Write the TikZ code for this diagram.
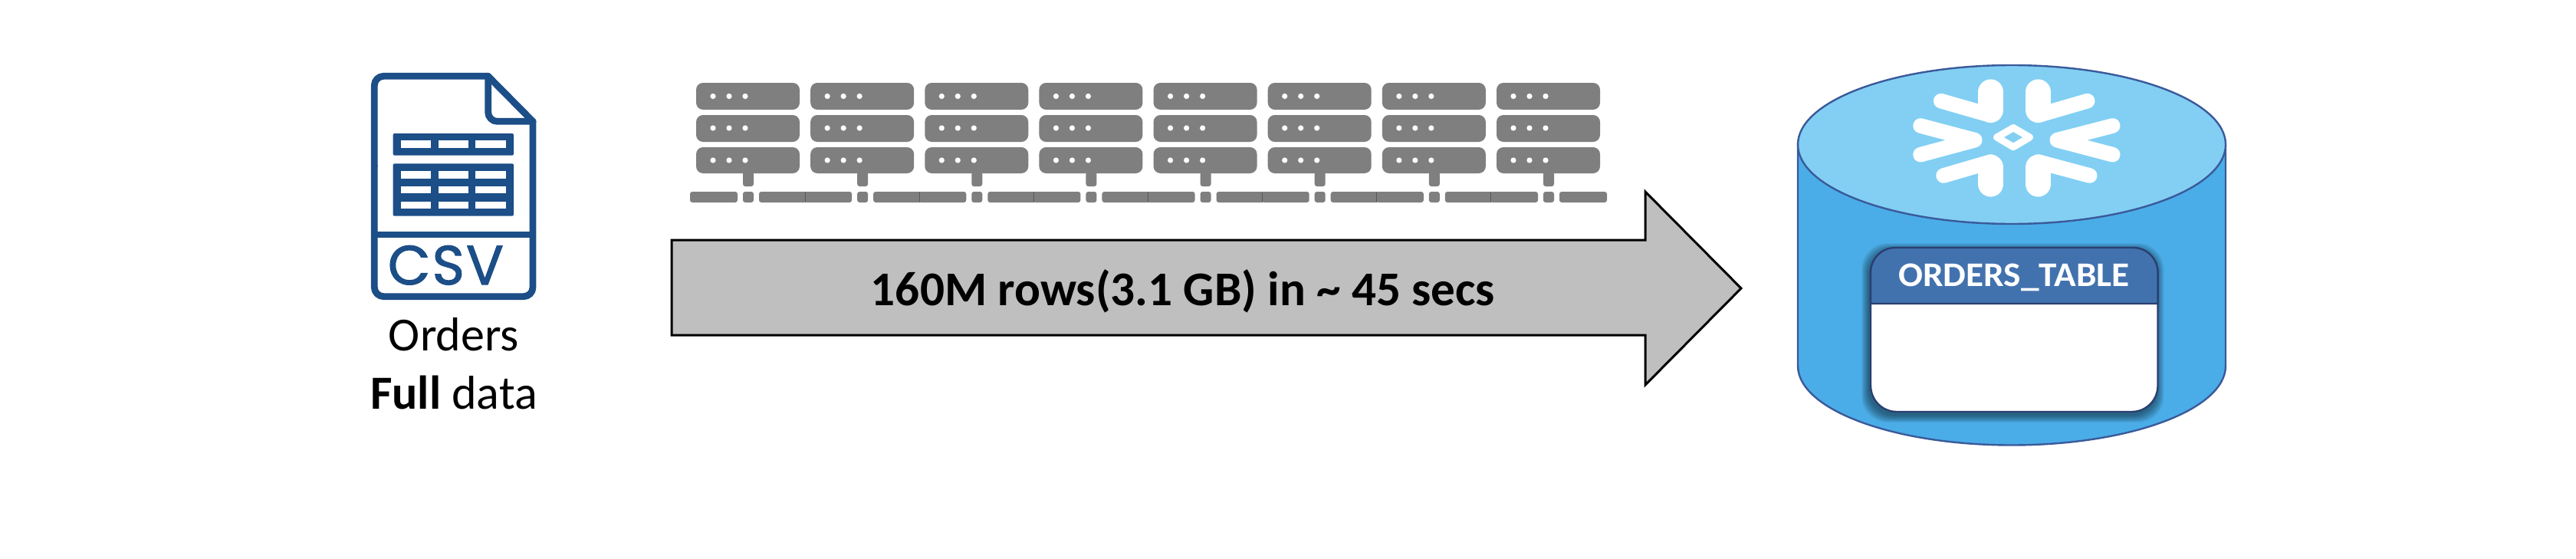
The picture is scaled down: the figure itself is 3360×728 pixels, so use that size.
\documentclass[tikz,border=0pt]{standalone}
\usepackage{fontspec}
\setmainfont{Carlito}
\newfontfamily\csvfont[LetterSpace=3,FakeBold=1.6]{Poppins}
\definecolor{csvblue}{HTML}{1C4E87}
\definecolor{srvgray}{HTML}{7F7F7F}
\definecolor{srvdark}{HTML}{595959}
\definecolor{arrowgray}{HTML}{BFBFBF}
\definecolor{cylbody}{HTML}{4BADE8}
\definecolor{cyltop}{HTML}{82CFF3}
\definecolor{cylline}{HTML}{3A5A9A}
\definecolor{tabhead}{HTML}{4272AE}
\definecolor{tabline}{HTML}{2A3F70}
\tikzset{
  every node/.style={inner sep=0pt,outer sep=0pt},
  srvbar/.style={fill=srvgray,rounded corners=4.5pt},
  srvsmall/.style={fill=srvgray,rounded corners=1.5pt},
  cellwhite/.style={fill=white},
  iconblock/.style={fill=csvblue,rounded corners=1pt},
  iconline/.style={draw=csvblue,line width=4.4pt,line join=round,line cap=round},
  flakearm/.style={draw=white,line width=9.8pt,line cap=round,line join=round},
  flakestem/.style={draw=white,line width=16.6pt,line cap=round,line join=round},
  lbl/.style={anchor=base,align=center,text=black},
}
\begin{document}
\begin{tikzpicture}[x=0.5pt,y=-0.5pt]
\useasboundingbox (0,0) rectangle (3360,728);
\fill[white] (0,0) rectangle (3360,728);

% CSV icon
\begin{scope}[shift={(440,70)},x=0.16667pt,y=-0.16667pt]
  \draw[iconline,rounded corners=6pt] (145,440) -- (145,88) -- (590,88);
  \draw[iconline] (590,88) -- (765,265);
  \draw[iconline,rounded corners=6pt] (590,88) -- (590,265) -- (765,265);
  \draw[iconline,rounded corners=6pt] (765,265) -- (765,950) -- (145,950) -- (145,440);
  \draw[iconline,line cap=butt] (145,708) -- (765,708);
  \fill[iconblock] (218,312) rectangle (690,398);
  \fill[iconblock] (218,430) rectangle (690,635);
  \foreach \cx in {248,395,541}{
    \fill[cellwhite] (\cx,340) rectangle ++(118,28);
    \fill[cellwhite] (\cx,460) rectangle ++(118,28);
    \fill[cellwhite] (\cx,518) rectangle ++(118,28);
    \fill[cellwhite] (\cx,578) rectangle ++(118,28);
  }
  \node[anchor=base,text=csvblue] (csvtxt) at (424,903)
    {\csvfont\fontsize{36pt}{36pt}\selectfont CSV};
\end{scope}
\node[lbl] (orders) at (592,457) {\fontsize{31pt}{31pt}\selectfont Orders};
\node[lbl] (fulldata) at (592,533) {\fontsize{31pt}{31pt}\selectfont\textbf{Full} data};

% Servers
\foreach \i in {0,...,7}{
  \pgfmathsetmacro{\xo}{908+149.14*\i}
  \begin{scope}[shift={(\xo,0)}]
    \foreach \ya/\yb/\yc in {108/143/125.5,150/185/167,192/226/209}{
      \fill[srvbar] (0,\ya) rectangle (135,\yb);
      \foreach \dx in {22,43,64}{
        \fill[white] (\dx,\yc) circle[radius=3.6];
      }
    }
    \fill[srvsmall] (61,224) rectangle (75,243);
    \fill[srvsmall] (-8,250) rectangle (54,264);
    \fill[srvsmall] (61,250) rectangle (75,264);
    \fill[srvsmall] (82,250) rectangle (144,264);
  \end{scope}
}
\foreach \i in {0,...,6}{
  \pgfmathsetmacro{\xo}{908+149.14*(\i)+142}
  \draw[srvdark,line width=0.5pt] (\xo,250) -- (\xo,264);
}

% Big arrow
\draw[fill=arrowgray,draw=black,line width=1.5pt,miter limit=10]
  (876,313) -- (2146,313) -- (2146,250) -- (2271,376) -- (2146,502) -- (2146,437) -- (876,437) -- cycle;
\node[lbl] (rate) at (1543,398) {\fontsize{31.6pt}{31.6pt}\selectfont\bfseries 160M rows(3.1 GB) in \textasciitilde{} 45 secs};

% Cylinder
\draw[fill=cylbody,draw=cylline,line width=1.2pt]
  (2345,188.5) -- (2345,477) arc[start angle=180,end angle=360,x radius=279,y radius=-103.5] -- (2903,188.5) -- cycle;
\draw[fill=cyltop,draw=cylline,line width=1.2pt] (2624,188.5) ellipse[x radius=279,y radius=103.5];

% Snowflake
\begin{scope}[shift={(2400,80)},x=0.16667pt,y=-0.16667pt]
  \draw[flakestem] (590,120) -- (590,190);
  \draw[flakearm] (395,155) -- (590,211);
  \draw[flakestem] (775,120) -- (775,190);
  \draw[flakearm] (968,155) -- (775,211);
  \draw[flakearm] (315,252) -- (527,308) -- (315,365);
  \draw[flakearm] (1067,252) -- (850,308) -- (1067,365);
  \draw[flakestem] (590,480) -- (590,415);
  \draw[flakearm] (405,447) -- (590,393);
  \draw[flakestem] (775,480) -- (775,415);
  \draw[flakearm] (977,447) -- (775,393);
  \draw[draw=white,line width=4.6pt,line join=round] (614,297) -- (678,260) -- (742,297) -- (678,335) -- cycle;
\end{scope}

% Table
\foreach \k in {10,...,1}{
  \fill[black,fill opacity=0.05,rounded corners=17pt]
    (2440-\k-2,323+4-\k) rectangle (2814.5+\k-2,537+4+\k);
}
\draw[fill=white,draw=tabline,line width=1.2pt,rounded corners=17pt] (2440,323) rectangle (2814.5,537);
\draw[fill=tabhead,draw=tabline,line width=1.2pt]
  (2440,396) -- (2440,355) arc[start angle=180,end angle=90,x radius=32,y radius=-32] -- (2782.5,323)
  arc[start angle=90,end angle=0,x radius=32,y radius=-32] -- (2814.5,396) -- cycle;
\node[lbl,text=white,xscale=1.05] (tabname) at (2627,373) {\fontsize{22.5pt}{22.5pt}\selectfont\bfseries ORDERS\_TABLE};
\end{tikzpicture}
\end{document}
